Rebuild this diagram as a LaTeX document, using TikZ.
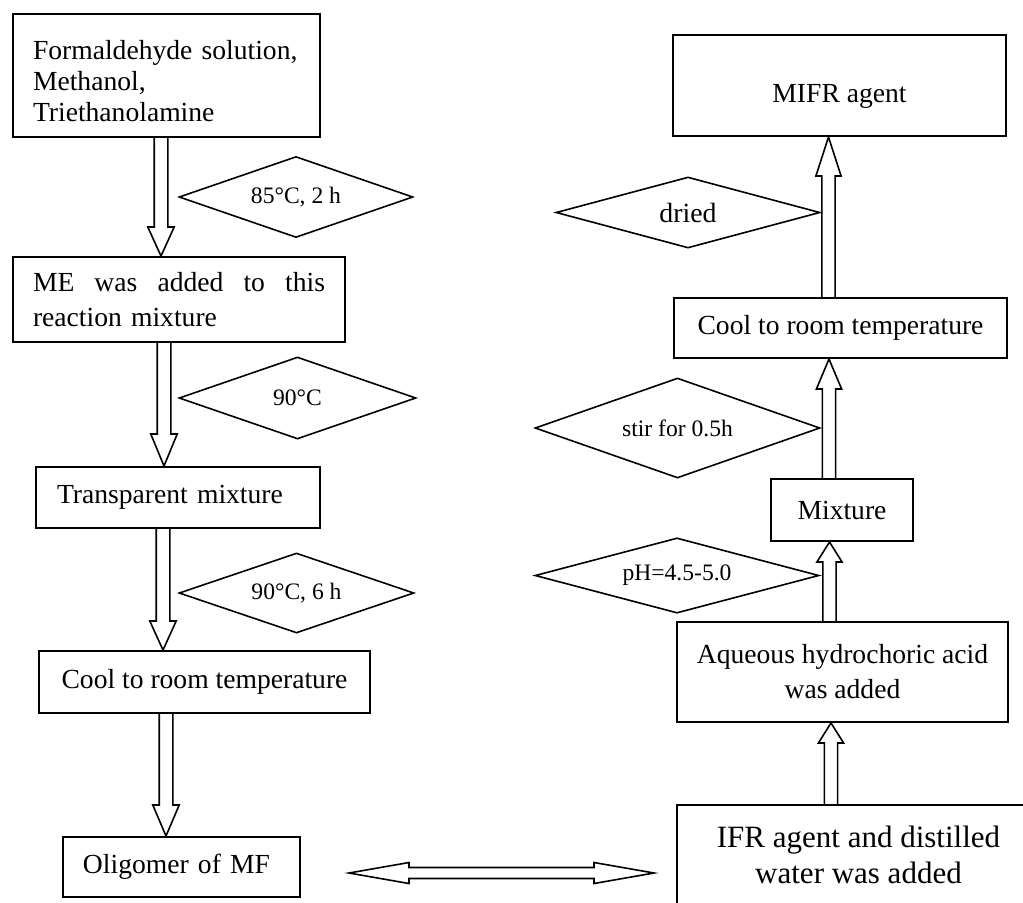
\documentclass[tikz,border=0pt]{standalone}
\usepackage{fontspec}
\setmainfont{Liberation Serif}
\usetikzlibrary{calc,shapes.geometric}
\begin{document}
\begin{tikzpicture}[x=0.5pt,y=-0.5pt,
  box/.style={draw, line width=1pt, inner sep=0pt, align=center, font=\fontsize{13.8}{17.5}\selectfont},
  dia/.style={draw, diamond, aspect=2, line width=0.8pt, inner sep=0pt, font=\fontsize{11.8}{14}\selectfont},
  arr/.style={draw, line width=0.8pt, line join=miter},
  hdown/.style={arr, to path={let \p1=(\tikztostart), \p2=(\tikztotarget) in
     (\x1-3.4pt,\y1) -- (\x1-3.4pt,\y2+#1) -- (\x1-6.6pt,\y2+#1) -- (\x1,\y2)
     -- (\x1+6.6pt,\y2+#1) -- (\x1+3.4pt,\y2+#1) -- (\x1+3.4pt,\y1)}},
  hup/.style={arr, to path={let \p1=(\tikztostart), \p2=(\tikztotarget) in
     (\x1-3.3pt,\y1) -- (\x1-3.3pt,\y2-#1) -- (\x1-6.3pt,\y2-#1) -- (\x1,\y2)
     -- (\x1+6.3pt,\y2-#1) -- (\x1+3.3pt,\y2-#1) -- (\x1+3.3pt,\y1)}},
  hboth/.style={arr, to path={let \p1=(\tikztostart), \p2=(\tikztotarget) in
     (\x1,\y1) -- (\x1+30pt,\y1+5.25pt) -- (\x1+30pt,\y1+2.75pt) -- (\x2-30pt,\y1+2.75pt)
     -- (\x2-30pt,\y1+5.25pt) -- (\x2,\y1) -- (\x2-30pt,\y1-5.25pt) -- (\x2-30pt,\y1-2.75pt)
     -- (\x1+30pt,\y1-2.75pt) -- (\x1+30pt,\y1-5.25pt) -- cycle}}
]
\useasboundingbox (0,0) rectangle (1023,902);
\clip (0,0) rectangle (1023,902);
\fill[white] (0,0) rectangle (1023,902);

% left column
\node[box, minimum width=153.5pt, minimum height=61.5pt, text width=133.5pt, align=left,
      font=\fontsize{13.8}{15.5}\selectfont] (b1) at (166.5,75.5)
  {\rule{0pt}{15pt}Formaldehyde solution,\\Methanol,\\Triethanolamine};
\node[box, minimum width=166pt, minimum height=42.5pt, text width=146pt, align=left] (b2) at (179,299.5)
  {\makebox[146pt][l]{ME\hfill was\hfill added\hfill to\hfill this}\\reaction mixture};
\node[box, minimum width=142pt, minimum height=30.5pt, text width=121pt, align=left] (b3) at (178,497.5) {Transparent mixture};
\node[box, minimum width=165.5pt, minimum height=31pt] (b4) at (204.5,682) {Cool to room temperature};
\node[box, minimum width=118.5pt, minimum height=30pt, text width=98.5pt, align=left] (b5) at (181.5,867) {Oligomer of MF};

% right column
\node[box, minimum width=166.5pt, minimum height=50.5pt, text height=17pt, text depth=0pt] (r1) at (839.5,85.5) {MIFR agent};
\node[box, minimum width=166.5pt, minimum height=30pt] (r2) at (840.5,328) {Cool to room temperature};
\node[box, minimum width=71pt, minimum height=31pt] (r3) at (842,510) {Mixture};
\node[box, minimum width=165.5pt, minimum height=50pt] (r4) at (842.5,672) {Aqueous hydrochoric acid\\was added};
\node[box, minimum width=181.5pt, minimum height=50pt, font=\fontsize{15.5}{18}\selectfont] (r5) at (858.5,855)
  {IFR agent and distilled\\water was added};

% condition diamonds
\node[dia, minimum width=117pt, minimum height=40.5pt] (d1) at (296,197) {85°C, 2 h};
\node[dia, minimum width=118.5pt, minimum height=41pt] (d2) at (297.5,398) {90°C};
\node[dia, minimum width=117.5pt, minimum height=40pt] (d3) at (296.5,593) {90°C, 6 h};
\node[dia, minimum width=132pt, minimum height=35.5pt, font=\fontsize{13.9}{16}\selectfont] (d4) at (688,212.5) {dried};
\node[dia, minimum width=142.5pt, minimum height=50pt] (d5) at (677.5,428) {stir for 0.5h};
\node[dia, minimum width=142pt, minimum height=35.5pt] (d6) at (677,575.5) {pH=4.5-5.0};

% hollow arrows
\draw[hdown=14.5pt] ([xshift=-2.75pt]b1.south) to (b2.north);
\draw[hdown=16pt] ([xshift=-7.5pt]b2.south) to (b3.north);
\draw[hdown=14.5pt] ([xshift=-7.5pt]b3.south) to (b4.north);
\draw[hdown=15.5pt] ([xshift=-19.25pt]b4.south) to (b5.north);
\draw[hup=10pt] ([xshift=-13.75pt]r5.north) to (r4.south);
\draw[hup=10pt] ([xshift=-6.5pt]r4.north) to (r3.south);
\draw[hup=15pt] ([xshift=-6.5pt]r3.north) to (r2.south);
\draw[hup=19.5pt] ([xshift=-6pt]r2.north) to (r1.south);

\coordinate (dl) at ($(b5.east)+(48,6)$);
\coordinate (dr) at ($(r5.west)+(-22,18)$);
\draw[hboth] (dl) to (dr);
\end{tikzpicture}
\end{document}
